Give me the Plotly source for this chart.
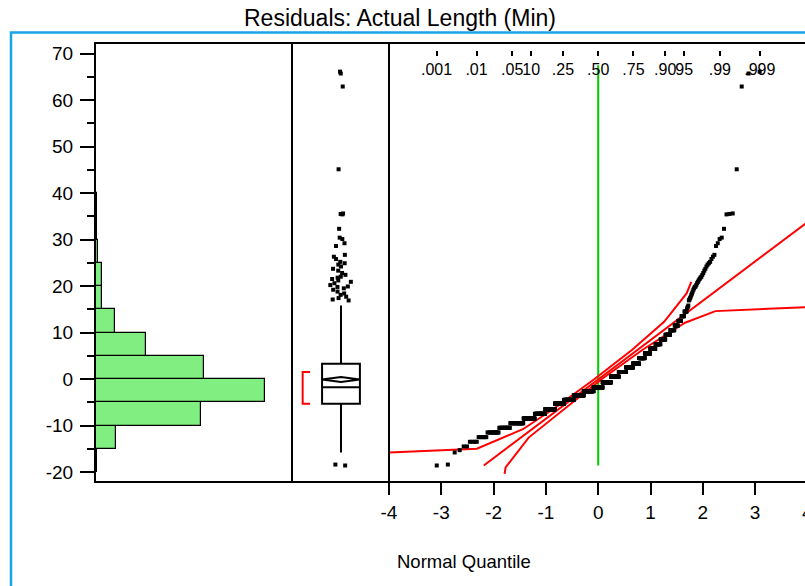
import numpy as np
import plotly.graph_objects as go
from statistics import NormalDist

# ---------------- data ----------------
# residual values grouped by level (frequency table) for the dense core
core_levels = [-14.5, -13.5, -12.5, -11.5, -10.5,
               -9.5, -8.5, -7.5, -6.5, -5.3,
               -4.5, -3.5, -2.6, -1.8, -0.7,
               0.5, 1.5, 2.5, 3.3, 4.5,
               5.5, 6.5, 7.5, 8.5, 9.5,
               10.5, 11.5, 12.5, 13.5, 14.5]
core_counts = [2, 4, 6, 12, 17,
               30, 36, 42, 48, 53,
               62, 70, 73, 68, 62,
               56, 50, 43, 36, 30,
               26, 23, 20, 17, 15,
               12, 9, 7, 6, 5]
# individually read tail values
tail_low = [-18.6, -18.4, -15.8, -15.3]
tail_high = [15.2, 15.5, 15.8, 16.9, 17.1, 17.4, 17.7, 18.1, 18.4, 18.8, 19.2, 19.5, 19.8, 19.9,
             20.2, 20.6, 20.9, 21.2, 21.5, 21.8, 22.0, 22.4, 22.8, 23.3, 23.7, 24.2, 24.6, 24.9,
             25.2, 25.8, 26.3, 26.7, 28.6, 29.2,
             30.1, 30.4, 32.3, 35.4, 35.5, 35.6, 45.1, 62.9, 65.7, 66.1]

# confidence band polylines (quantile, value)
band_a_q = [-4.0, -2.32, -1.44, -0.85, -0.07, 0.65, 1.26, 1.69, 1.78]
band_a_v = [-15.8, -15.0, -10.8, -6.4, 0.0, 6.3, 12.3, 18.4, 20.9]
band_b_q = [-1.79, -1.77, -1.33, -0.65, 0.07, 0.85, 1.66, 2.24, 4.0]
band_b_v = [-20.4, -19.0, -12.6, -6.4, 0.0, 6.3, 12.1, 14.6, 15.45]

prob_levels = [0.001, 0.01, 0.05, 0.10, 0.25, 0.50, 0.75, 0.90, 0.95, 0.99, 0.999]
prob_labels = [".001", ".01", ".05", "10", ".25", ".50", ".75", ".90", "95", ".99", ".999"]

y_ticks = [-20, -10, 0, 10, 20, 30, 40, 50, 60, 70]
q_ticks = [-4, -3, -2, -1, 0, 1, 2, 3]

# ---------------- derived ----------------
resid = np.sort(np.concatenate([tail_low, np.repeat(core_levels, core_counts), tail_high]))
n = len(resid)
nd = NormalDist()
qq_x = np.array([nd.inv_cdf(i / (n + 1)) for i in range(1, n + 1)])
mean = resid.mean()
sd = resid.std(ddof=1)
ci = 1.96 * sd / np.sqrt(n)
half = int(np.ceil(n / 2))
widths = resid[half - 1:] - resid[:n - half + 1]
k = int(np.argmin(widths))
sh_lo, sh_hi = resid[k], resid[k + half - 1]

W, H = 805, 586
def px(x): return x / W
def py(y): return 1 - y / H

FONT = "Liberation Sans, Arial, sans-serif"

fig = go.Figure()

# histogram
fig.add_trace(go.Histogram(
    y=resid, ybins=dict(start=-20, end=70, size=5), orientation="h",
    marker=dict(color="#80ee80", line=dict(color="black", width=1.2)),
    xaxis="x", yaxis="y", hoverinfo="skip", showlegend=False))

# box plot
BX, BW = 0.505, 0.39
fig.add_trace(go.Box(
    y=resid, x0=BX, width=BW, xaxis="x2", yaxis="y",
    boxpoints="outliers", jitter=0.6, pointpos=0, whiskerwidth=0,
    fillcolor="white", line=dict(color="black", width=2),
    marker=dict(symbol="square", size=4, color="black", line=dict(width=0)),
    hoverinfo="skip", showlegend=False))
# mean diamond
fig.add_trace(go.Scatter(
    x=[BX - BW / 2, BX, BX + BW / 2, BX, BX - BW / 2],
    y=[mean, mean + ci, mean, mean - ci, mean],
    mode="lines", line=dict(color="black", width=2),
    xaxis="x2", yaxis="y", hoverinfo="skip", showlegend=False))
# shortest half bracket
fig.add_trace(go.Scatter(
    x=[0.186, 0.11, 0.11, 0.186], y=[sh_hi, sh_hi, sh_lo, sh_lo],
    mode="lines", line=dict(color="red", width=2),
    xaxis="x2", yaxis="y", hoverinfo="skip", showlegend=False))

# normal quantile plot
fig.add_trace(go.Scatter(
    x=[0, 0], y=[resid.min(), resid.max() + 1.4], mode="lines",
    line=dict(color="#00cc00", width=2), xaxis="x3", yaxis="y",
    hoverinfo="skip", showlegend=False))
for bq, bv in ((band_a_q, band_a_v), (band_b_q, band_b_v)):
    fig.add_trace(go.Scatter(
        x=bq, y=bv, mode="lines", line=dict(color="red", width=2),
        xaxis="x3", yaxis="y", hoverinfo="skip", showlegend=False))
fig.add_trace(go.Scatter(
    x=[(resid.min() - mean) / sd, (resid.max() - mean) / sd],
    y=[resid.min(), resid.max()], mode="lines",
    line=dict(color="red", width=2), xaxis="x3", yaxis="y",
    hoverinfo="skip", showlegend=False))
fig.add_trace(go.Scatter(
    x=qq_x, y=resid, mode="markers",
    marker=dict(symbol="square", size=4, color="black", line=dict(width=0)),
    xaxis="x3", yaxis="y", hoverinfo="skip", showlegend=False))
# dummy trace so the probability axis is drawn
fig.add_trace(go.Scatter(
    x=[0], y=[0], mode="markers", marker=dict(opacity=0),
    xaxis="x4", yaxis="y", hoverinfo="skip", showlegend=False))

QR = [-4, -4 + (W - 389) / 52.3]
axis_common = dict(showgrid=False, zeroline=False, color="black")

fig.update_layout(
    width=W, height=H, margin=dict(l=0, r=0, t=0, b=0, autoexpand=False),
    paper_bgcolor="white", plot_bgcolor="rgba(0,0,0,0)",
    font=dict(family=FONT, color="black"),
    bargap=0,
    yaxis=dict(domain=[py(482), py(43)], range=[-22.15, 72.26], anchor="x",
               tickvals=y_ticks, ticktext=[str(v) for v in y_ticks],
               ticks="outside", ticklen=14, tickwidth=2, tickcolor="black",
               minor=dict(dtick=5, ticks="outside", ticklen=7, tickwidth=2,
                          tickcolor="black", showgrid=False),
               tickfont=dict(size=19), ticklabelstandoff=3, showline=False,
               automargin=False, **axis_common),
    xaxis=dict(domain=[px(95), px(292)], range=[0, 389], visible=False,
               anchor="y", automargin=False, **axis_common),
    xaxis2=dict(domain=[px(292), px(389)], range=[0, 1], visible=False,
                anchor="y", automargin=False, **axis_common),
    xaxis3=dict(domain=[px(389), 1], range=QR, anchor="y",
                tickvals=q_ticks, ticktext=[str(v) for v in q_ticks], tickangle=0,
                ticks="outside", ticklen=12, tickwidth=2, tickcolor="black",
                tickfont=dict(size=19), ticklabelstandoff=1, showline=False,
                automargin=False, **axis_common),
    xaxis4=dict(overlaying="x3", range=QR, anchor="free", position=py(49.5),
                side="bottom", tickvals=[nd.inv_cdf(p) for p in prob_levels],
                ticktext=prob_labels, tickangle=0,
                ticks="outside", ticklen=5, tickwidth=2, tickcolor="black",
                tickfont=dict(size=16), ticklabelstandoff=0, showline=False,
                automargin=False, **axis_common),
    shapes=[
        dict(type="rect", xref="paper", yref="paper", x0=px(11), x1=1.3,
             y0=-0.3, y1=py(32.5), line=dict(color="#18a4e6", width=2.5)),
        dict(type="rect", xref="paper", yref="paper", x0=px(95), x1=1.2,
             y0=py(482), y1=py(43), line=dict(color="black", width=2)),
        dict(type="line", xref="paper", yref="paper", x0=px(292), x1=px(292),
             y0=py(482), y1=py(43), line=dict(color="black", width=2)),
        dict(type="line", xref="paper", yref="paper", x0=px(389), x1=px(389),
             y0=py(482), y1=py(43), line=dict(color="black", width=2)),
    ],
    annotations=[
        dict(text="Residuals: Actual Length (Min)", xref="paper", yref="paper",
             x=px(400), y=py(18), xanchor="center", yanchor="middle",
             showarrow=False, font=dict(size=23)),
        dict(text="Normal Quantile", xref="paper", yref="paper",
             x=px(464), y=py(561), xanchor="center", yanchor="middle",
             showarrow=False, font=dict(size=18.5)),
        dict(text="4", xref="paper", yref="paper",
             x=px(807), y=py(512.7), xanchor="center", yanchor="middle",
             showarrow=False, font=dict(size=19)),
    ],
)

fig.write_html("out.html")
